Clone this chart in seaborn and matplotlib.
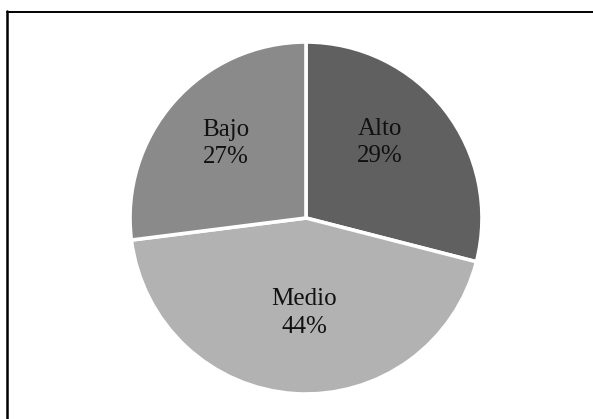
import numpy as np
import matplotlib
matplotlib.use("Agg")
import matplotlib.pyplot as plt
from matplotlib.lines import Line2D
import seaborn as sns

# Distribution by level
categories = ["Alto", "Medio", "Bajo"]
percentages = [29, 44, 27]
slice_colors = ["#606060", "#b2b2b2", "#8a8a8a"]

# Label placement (radius as fraction of pie radius, angle nudge in degrees)
label_radius = [0.60, 0.54, 0.62]
label_angle_shift = [8.0, 2.5, -1.5]

sns.set_theme(style="white")
plt.rcParams["font.family"] = ["Liberation Serif", "DejaVu Serif"]

fig = plt.figure(figsize=(5.93, 4.19), dpi=100)
fig.patch.set_facecolor("white")

ax = fig.add_axes([130 / 593, (419 - 394) / 419, 352 / 593, 352 / 419])
wedges, _ = ax.pie(
    percentages,
    colors=sns.color_palette(slice_colors),
    startangle=90,
    counterclock=False,
    radius=1.0,
    wedgeprops=dict(edgecolor="white", linewidth=2.6),
)
ax.set_xlim(-1, 1)
ax.set_ylim(-1, 1)
ax.set_axis_off()

for w, name, pct, r, shift in zip(wedges, categories, percentages,
                                  label_radius, label_angle_shift):
    mid = np.deg2rad((w.theta1 + w.theta2) / 2 + shift)
    ax.text(r * np.cos(mid), r * np.sin(mid), f"{name}\n{pct}%",
            ha="center", va="center", multialignment="center",
            fontsize=18, color="#111111", linespacing=1.3)

# Frame lines along the top and left edges
fig.add_artist(Line2D([7 / 593, 1.0], [1 - 12 / 419, 1 - 12 / 419],
                      transform=fig.transFigure, color="black", linewidth=1.4))
fig.add_artist(Line2D([7 / 593, 7 / 593], [0.0, 1 - 11.3 / 419],
                      transform=fig.transFigure, color="black", linewidth=1.8))

fig.savefig("out.png", dpi=100, facecolor="white")
